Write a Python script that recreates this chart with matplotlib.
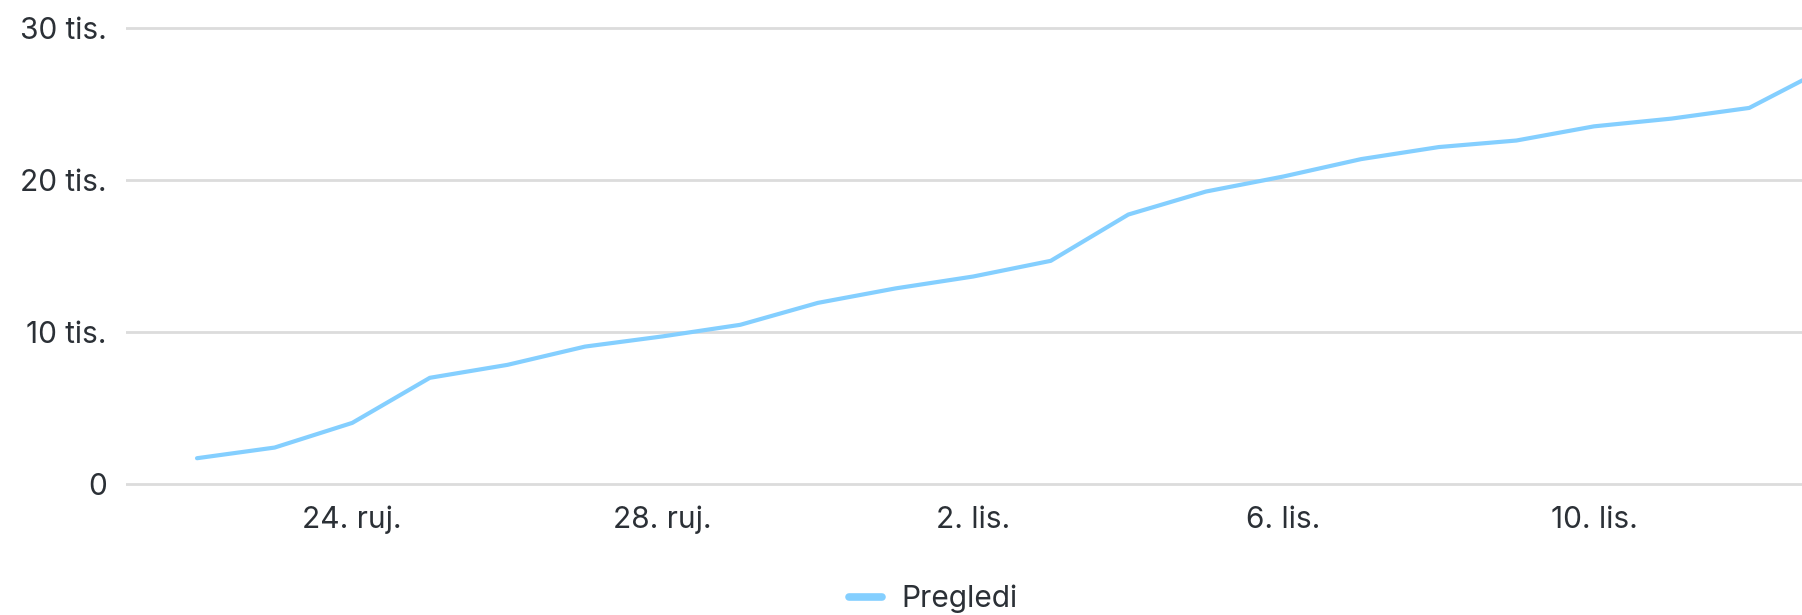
import matplotlib
matplotlib.use("Agg")
import matplotlib.pyplot as plt
from matplotlib.lines import Line2D

plt.rcParams['font.family'] = ['Inter', 'DejaVu Sans']

# Data: daily cumulative views (Pregledi), 22. ruj. - 13. lis.
dates = ["22. ruj.", "23. ruj.", "24. ruj.", "25. ruj.", "26. ruj.", "27. ruj.",
         "28. ruj.", "29. ruj.", "30. ruj.", "1. lis.", "2. lis.", "3. lis.",
         "4. lis.", "5. lis.", "6. lis.", "7. lis.", "8. lis.", "9. lis.",
         "10. lis.", "11. lis.", "12. lis.", "13. lis."]
views = [1720, 2420, 4040, 7000, 7850, 9050, 9720, 10480, 11920, 12870, 13650,
         14680, 17720, 19230, 20220, 21360, 22150, 22580, 23510, 24020, 24720, 27360]
tick_dates = ["24. ruj.", "28. ruj.", "2. lis.", "6. lis.", "10. lis."]
y_ticks = [0, 10000, 20000, 30000]
y_labels = ["0", "10 tis.", "20 tis.", "30 tis."]
series_name = "Pregledi"

line_color = "#84CFFF"
text_color = "#2B3036"
grid_color = "#DCDCDC"

fig = plt.figure(figsize=(18.02, 6.15), dpi=100)
fig.patch.set_facecolor("white")
ax = fig.add_axes([126 / 1802, 0.2049, 1 - 126 / 1802, 0.7578])

x = list(range(len(views)))
ax.plot(x, views, color=line_color, linewidth=3.0, solid_joinstyle="round",
        solid_capstyle="round")

ax.set_xlim(-0.915, 20.68)
ax.set_ylim(-300, 30300)

ax.set_yticks(y_ticks)
ax.set_yticklabels(y_labels)
ax.set_xticks([dates.index(d) for d in tick_dates])
ax.set_xticklabels(tick_dates)

ax.tick_params(axis="both", length=0, labelsize=21.5, colors=text_color)
ax.tick_params(axis="y", pad=14)
ax.tick_params(axis="x", pad=12)
ax.yaxis.grid(True, color=grid_color, linewidth=2)
ax.xaxis.grid(False)
ax.set_axisbelow(True)
for s in ax.spines.values():
    s.set_visible(False)

handle = Line2D([0], [0], color=line_color, linewidth=5.5, solid_capstyle="round")
leg = fig.legend([handle], [series_name], loc="center",
                 bbox_to_anchor=(933 / 1802, 1 - 599 / 615),
                 frameon=False, fontsize=21.5, handlelength=1.1, handletextpad=0.65,
                 labelcolor=text_color)

fig.savefig("out.png", dpi=100, facecolor="white")
